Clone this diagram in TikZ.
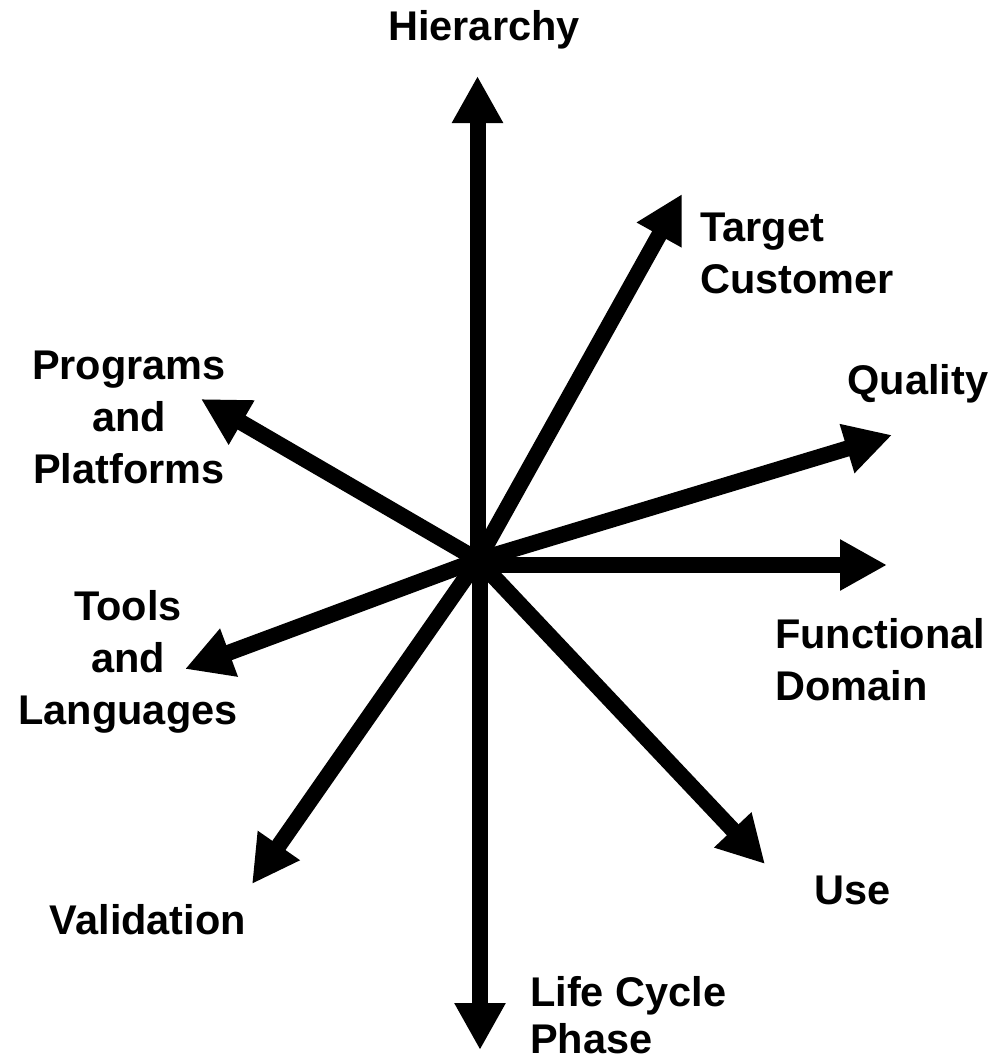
\documentclass[tikz,border=0pt]{standalone}
\usepackage{fontspec}
\setmainfont{Liberation Sans}
\usetikzlibrary{arrows.meta}
\begin{document}
\begin{tikzpicture}[x=1pt,y=-1pt,
  axis/.style={line width=16pt,-{Triangle[length=47pt,width=48pt]}},
  lbl/.style={font=\fontsize{41.5}{52}\selectfont\bfseries,inner sep=0pt}]
\useasboundingbox (0,0) rectangle (995,1058);
\coordinate (c) at (478,560);
\coordinate (hier) at (477.5,76);
\coordinate (life) at (480,1050);
\coordinate (targ) at (682,194);
\coordinate (qual) at (892,435);
\coordinate (func) at (887,565);
\coordinate (use) at (765,864);
\coordinate (vali) at (252,884);
\coordinate (tool) at (185,669);
\coordinate (prog) at (201,399);
\draw[axis] (477.5,560) -- (hier);
\draw[axis] (480,560) -- (life);
\draw[axis] (c) -- (targ);
\draw[axis] (c) -- (qual);
\draw[axis] (478,565) -- (func);
\draw[axis] (c) -- (use);
\draw[axis] (c) -- (vali);
\draw[axis] (c) -- (tool);
\draw[axis] (c) -- (prog);
\node[lbl] (tHier) at (484,30) {Hierarchy};
\node[lbl,align=left,anchor=west] (tTarg) at (700,253) {Target\\Customer};
\node[lbl] (tQual) at (918,384) {Quality};
\node[lbl,align=center] (tProg) at (129,417) {Programs\\and\\Platforms};
\node[lbl,align=center] (tTool) at (128,662) {Tools\\and\\Languages};
\node[lbl,align=left,anchor=west] (tFunc) at (775,660) {Functional\\Domain};
\node[lbl] (tUse) at (853,890) {Use};
\node[lbl] (tVali) at (148,920) {Validation};
\node[lbl,font=\fontsize{41.5}{47}\selectfont\bfseries,align=left,anchor=west] (tLife) at (530,1015) {Life Cycle\\Phase};
\end{tikzpicture}
\end{document}
